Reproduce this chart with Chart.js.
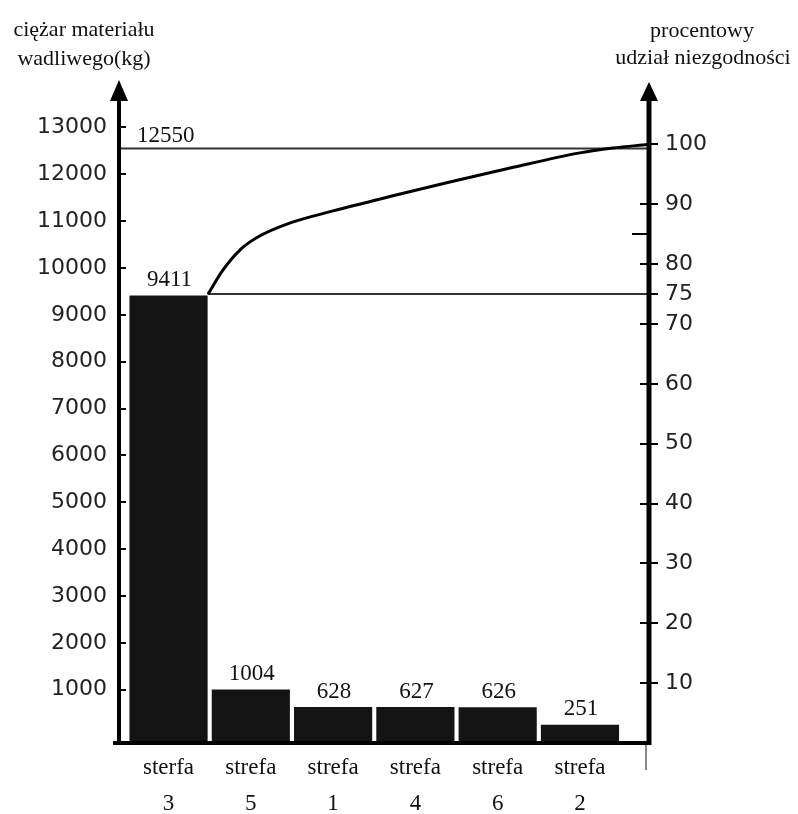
<!DOCTYPE html>
<html>
<head>
<meta charset="utf-8">
<script src="https://cdn.jsdelivr.net/npm/chart.js@4.4.1/dist/chart.umd.min.js"></script>
<style>
  html, body { margin: 0; padding: 0; background: #fff; }
  canvas { display: block; }
</style>
</head>
<body>
<canvas id="pareto" width="798" height="814"></canvas>
<script>
// --- DATA ---
const zoneWords = ['sterfa', 'strefa', 'strefa', 'strefa', 'strefa', 'strefa'];
const zoneNumbers = ['3', '5', '1', '4', '6', '2'];
const weightKg = [9411, 1004, 628, 627, 626, 251];
const totalKg = 12550;
const thresholdPct = 75;

const leftTicks = [1000, 2000, 3000, 4000, 5000, 6000, 7000, 8000, 9000, 10000, 11000, 12000, 13000];
const rightTicks = [10, 20, 30, 40, 50, 60, 70, 75, 80, 90, 100];
const rightExtraMarks = [85];

// cumulative curve as drawn (x in category units, y in %)
const curveX = [0.48, 0.66, 0.87, 1.08, 1.48, 2.0, 2.69, 3.38, 4.19, 5.0, 5.4, 5.82];
const curvePct = [75, 79.0, 82.4, 84.5, 86.9, 88.9, 91.3, 93.6, 96.2, 98.6, 99.4, 100];

// --- AXIS RANGES ---
const X_MIN = -0.602, X_MAX = 5.839;
const KG_MIN = -139, KG_MAX = 13970;
const PCT_MIN = 0, PCT_MAX = 110.44;
const BAR_PCT = 0.95;

const SERIF = '"Liberation Serif", "Times New Roman", serif';
const SANS = '"DejaVu Sans", Verdana, sans-serif';

// --- DECORATION: axes, arrows, tick marks, labels, titles ---
const decorPlugin = {
    id: 'decor',
    afterDraw(chart) {
        const ctx = chart.ctx;
        const a = chart.chartArea;
        const yS = chart.scales.y, yP = chart.scales.y1;
        ctx.save();
        ctx.strokeStyle = '#000';
        ctx.fillStyle = '#000';
        ctx.lineCap = 'butt';

        // axis lines
        ctx.lineWidth = 4;
        ctx.beginPath();
        ctx.moveTo(a.left, a.bottom + 2); ctx.lineTo(a.left, a.top + 16);
        ctx.stroke();
        ctx.lineWidth = 5;
        ctx.beginPath();
        ctx.moveTo(a.right, a.bottom + 2); ctx.lineTo(a.right, a.top + 16);
        ctx.stroke();
        ctx.lineWidth = 4;
        ctx.beginPath();
        ctx.moveTo(a.left - 6, a.bottom); ctx.lineTo(a.right + 2, a.bottom);
        ctx.stroke();

        // arrows
        [[a.left, -2], [a.right, 0]].forEach(([x, dy]) => {
            ctx.beginPath();
            ctx.moveTo(x, a.top + dy);
            ctx.lineTo(x - 9, a.top + 19);
            ctx.lineTo(x + 9, a.top + 19);
            ctx.closePath();
            ctx.fill();
        });

        // tick marks
        ctx.lineWidth = 2;
        leftTicks.forEach(v => {
            const y = Math.round(yS.getPixelForValue(v));
            ctx.beginPath(); ctx.moveTo(a.left, y); ctx.lineTo(a.left + 7, y); ctx.stroke();
        });
        rightTicks.forEach(v => {
            const y = Math.round(yP.getPixelForValue(v));
            const x0 = (v === 100 || v === thresholdPct) ? a.right : a.right - 9;
            ctx.beginPath(); ctx.moveTo(x0, y); ctx.lineTo(a.right + 9, y); ctx.stroke();
        });
        rightExtraMarks.forEach(v => {
            const y = Math.round(yP.getPixelForValue(v));
            ctx.beginPath(); ctx.moveTo(a.right - 17, y); ctx.lineTo(a.right, y); ctx.stroke();
        });

        // small grey mark under the right axis
        ctx.strokeStyle = '#888';
        ctx.beginPath(); ctx.moveTo(a.right - 3, a.bottom + 2); ctx.lineTo(a.right - 3, a.bottom + 27); ctx.stroke();

        // bar value labels
        ctx.fillStyle = '#111';
        ctx.font = '23px ' + SERIF;
        ctx.textAlign = 'center';
        ctx.textBaseline = 'bottom';
        const bars = chart.getDatasetMeta(0).data;
        bars.forEach((bar, i) => {
            ctx.fillText(String(weightKg[i]), bar.x + 1, bar.y - 4);
        });

        // total label
        ctx.textAlign = 'left';
        ctx.textBaseline = 'alphabetic';
        ctx.fillText(String(totalKg), a.left + 18, yS.getPixelForValue(totalKg) - 7);

        // axis titles
        ctx.font = '22px ' + SERIF;
        ctx.textAlign = 'center';
        ctx.fillText('ciężar materiału', 84, 36);
        ctx.fillText('wadliwego(kg)', 84, 65);
        ctx.fillText('procentowy', 702, 37);
        ctx.fillText('udział niezgodności', 703, 64);
        ctx.restore();
    }
};

const barHalf = BAR_PCT / 2;

new Chart(document.getElementById('pareto'), {
    type: 'bar',
    data: {
        datasets: [
            {
                type: 'bar',
                data: weightKg.map((v, i) => ({ x: i, y: v })),
                backgroundColor: '#141414',
                borderWidth: 0,
                base: KG_MIN,
                barPercentage: BAR_PCT,
                categoryPercentage: 1.0,
                xAxisID: 'x',
                yAxisID: 'y',
                order: 3
            },
            {
                type: 'line',
                data: [{ x: X_MIN, y: totalKg }, { x: X_MAX, y: totalKg }],
                borderColor: '#333',
                borderWidth: 2,
                pointRadius: 0,
                xAxisID: 'x',
                yAxisID: 'y',
                order: 2
            },
            {
                type: 'line',
                data: [{ x: barHalf, y: thresholdPct }, { x: X_MAX, y: thresholdPct }],
                borderColor: '#333',
                borderWidth: 2,
                pointRadius: 0,
                xAxisID: 'x',
                yAxisID: 'y1',
                order: 2
            },
            {
                type: 'line',
                data: curveX.map((x, i) => ({ x: x, y: curvePct[i] })),
                borderColor: '#000',
                borderWidth: 3,
                pointRadius: 0,
                cubicInterpolationMode: 'monotone',
                xAxisID: 'x',
                yAxisID: 'y1',
                order: 1
            }
        ]
    },
    options: {
        responsive: false,
        animation: false,
        devicePixelRatio: 1,
        layout: { padding: { top: 82, left: 0, right: 0, bottom: 0 } },
        plugins: {
            legend: { display: false },
            tooltip: { enabled: false }
        },
        scales: {
            x: {
                type: 'linear',
                offset: false,
                min: X_MIN,
                max: X_MAX,
                grid: { display: false, drawTicks: false },
                border: { display: false },
                afterFit: s => { s.height = 71; },
                afterBuildTicks: s => { s.ticks = zoneNumbers.map((_, i) => ({ value: i })); },
                ticks: {
                    autoSkip: false,
                    maxRotation: 0,
                    padding: 7,
                    color: '#111',
                    font: { family: SERIF, size: 23, lineHeight: 1.55 },
                    callback: v => [zoneWords[v], zoneNumbers[v]]
                }
            },
            y: {
                type: 'linear',
                position: 'left',
                min: KG_MIN,
                max: KG_MAX,
                grid: { display: false, drawTicks: false },
                border: { display: false },
                afterFit: s => { s.width = 119; },
                afterBuildTicks: s => { s.ticks = leftTicks.map(v => ({ value: v })); },
                ticks: {
                    autoSkip: false,
                    padding: 12,
                    color: '#222',
                    font: { family: SANS, size: 22 },
                    callback: v => String(v)
                }
            },
            y1: {
                type: 'linear',
                position: 'right',
                min: PCT_MIN,
                max: PCT_MAX,
                grid: { display: false, drawTicks: false },
                border: { display: false },
                afterFit: s => { s.width = 149; },
                afterBuildTicks: s => { s.ticks = rightTicks.map(v => ({ value: v })); },
                ticks: {
                    autoSkip: false,
                    padding: 16,
                    color: '#222',
                    font: { family: SANS, size: 22 },
                    callback: v => String(v)
                }
            }
        }
    },
    plugins: [decorPlugin]
});
</script>
</body>
</html>
